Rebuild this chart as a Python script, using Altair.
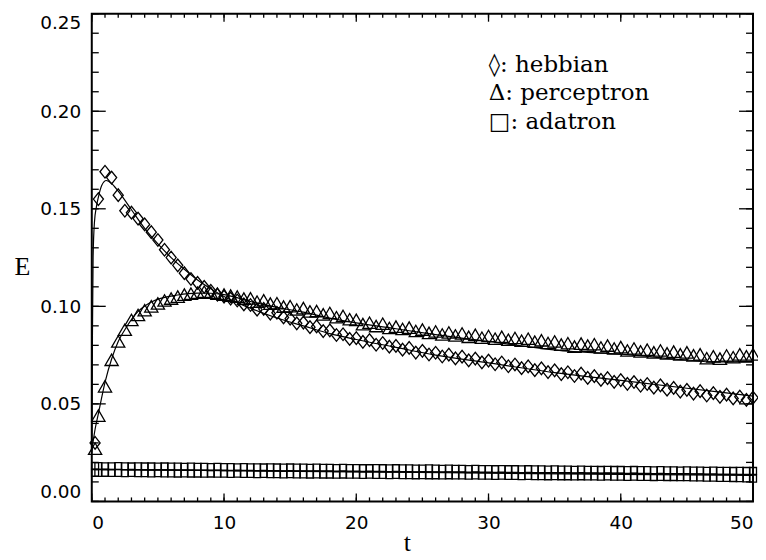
import altair as alt
import pandas as pd

# ---------------- data ----------------
# simulation sample times
t_points = [0.25] + [0.5 * k for k in range(1, 101)]

hebbian_pts = [
    0.030, 0.155, 0.169, 0.166, 0.157, 0.149, 0.148, 0.145, 0.142, 0.138,
    0.134, 0.129, 0.125, 0.121, 0.117, 0.114, 0.112, 0.110, 0.108, 0.106,
    0.105, 0.104, 0.103, 0.101, 0.1007, 0.0983, 0.0987, 0.0963, 0.0967, 0.0943,
    0.0937, 0.0913, 0.0917, 0.0893, 0.0897, 0.0873, 0.0877, 0.0853, 0.0857, 0.0833,
    0.0837, 0.0818, 0.0827, 0.0803, 0.0812, 0.0793, 0.0797, 0.0778, 0.0787, 0.0763,
    0.0772, 0.0753, 0.0762, 0.0743, 0.0752, 0.0733, 0.0742, 0.0723, 0.0732, 0.0713,
    0.0722, 0.0703, 0.0712, 0.0693, 0.0702, 0.0683, 0.0692, 0.0673, 0.0682, 0.0663,
    0.0672, 0.0653, 0.0662, 0.0643, 0.0655, 0.0633, 0.0642, 0.0623, 0.0632, 0.0613,
    0.0622, 0.0603, 0.0612, 0.0593, 0.0602, 0.0583, 0.0595, 0.0573, 0.0582, 0.0563,
    0.0572, 0.0553, 0.0565, 0.0543, 0.0555, 0.0536, 0.0547, 0.0528, 0.0537, 0.0521,
    0.0532,
]

perceptron_pts = [
    0.027, 0.044, 0.059, 0.0726, 0.082, 0.088, 0.093, 0.0956, 0.098, 0.100,
    0.1015, 0.103, 0.104, 0.105, 0.106, 0.1065, 0.107, 0.1075, 0.107, 0.1065,
    0.106, 0.1055, 0.105, 0.104, 0.1041, 0.1024, 0.1031, 0.1014, 0.1016, 0.0999,
    0.1001, 0.0984, 0.0991, 0.0974, 0.0976, 0.0959, 0.0966, 0.0944, 0.0951, 0.0934,
    0.0931, 0.0909, 0.0916, 0.0899, 0.0911, 0.0889, 0.0896, 0.0884, 0.0891, 0.0874,
    0.0881, 0.0864, 0.0871, 0.0856, 0.0866, 0.0851, 0.0861, 0.0844, 0.0854, 0.0839,
    0.0848, 0.0834, 0.0844, 0.0829, 0.0838, 0.0824, 0.0834, 0.0819, 0.0826, 0.0812,
    0.0820, 0.0804, 0.0811, 0.0794, 0.0809, 0.0799, 0.0806, 0.0789, 0.0799, 0.0784,
    0.0791, 0.0774, 0.0784, 0.0769, 0.0778, 0.0764, 0.0774, 0.0759, 0.0768, 0.0754,
    0.0764, 0.0749, 0.0754, 0.0734, 0.0744, 0.0732, 0.0748, 0.0739, 0.0754, 0.0744,
    0.0754,
]

adatron_upper = [
    0.0181, 0.0181, 0.0180, 0.0180, 0.0181, 0.0180, 0.0179, 0.0180, 0.0179, 0.0179,
    0.0178, 0.0179, 0.0178, 0.0178, 0.0177, 0.0178, 0.0177, 0.0177, 0.0176, 0.0177,
    0.0176, 0.0176, 0.0175, 0.0176, 0.0175, 0.0175, 0.0174, 0.0175, 0.0174, 0.0173,
    0.0174, 0.0173, 0.0173, 0.0172, 0.0173, 0.0172, 0.0172, 0.0171, 0.0172, 0.0171,
    0.0171, 0.0170, 0.0170, 0.0171, 0.0170, 0.0169, 0.0170, 0.0169, 0.0169, 0.0168,
    0.0168, 0.0169, 0.0168, 0.0167, 0.0168, 0.0167, 0.0167, 0.0166, 0.0167, 0.0166,
    0.0166, 0.0165, 0.0166, 0.0165, 0.0165, 0.0164, 0.0165, 0.0164, 0.0164, 0.0163,
    0.0164, 0.0163, 0.0163, 0.0162, 0.0163, 0.0162, 0.0162, 0.0161, 0.0162, 0.0161,
    0.0161, 0.0160, 0.0161, 0.0160, 0.0160, 0.0159, 0.0160, 0.0159, 0.0159, 0.0158,
    0.0159, 0.0158, 0.0158, 0.0157, 0.0158, 0.0157, 0.0157, 0.0156, 0.0157, 0.0156,
    0.0156,
]

adatron_lower = [
    0.0147, 0.0146, 0.0147, 0.0146, 0.0146, 0.0145, 0.0146, 0.0145, 0.0145, 0.0144,
    0.0145, 0.0144, 0.0144, 0.0143, 0.0144, 0.0143, 0.0143, 0.0142, 0.0143, 0.0142,
    0.0142, 0.0141, 0.0142, 0.0141, 0.0141, 0.0140, 0.0141, 0.0140, 0.0140, 0.0139,
    0.0140, 0.0139, 0.0139, 0.0138, 0.0139, 0.0138, 0.0138, 0.0137, 0.0138, 0.0137,
    0.0137, 0.0136, 0.0137, 0.0136, 0.0136, 0.0135, 0.0136, 0.0135, 0.0135, 0.0134,
    0.0135, 0.0134, 0.0134, 0.0133, 0.0134, 0.0133, 0.0133, 0.0132, 0.0133, 0.0132,
    0.0132, 0.0131, 0.0132, 0.0131, 0.0131, 0.0130, 0.0131, 0.0130, 0.0130, 0.0129,
    0.0130, 0.0129, 0.0129, 0.0128, 0.0129, 0.0128, 0.0128, 0.0127, 0.0128, 0.0127,
    0.0127, 0.0126, 0.0127, 0.0126, 0.0126, 0.0125, 0.0126, 0.0125, 0.0125, 0.0124,
    0.0124, 0.0123, 0.0123, 0.0122, 0.0122, 0.0121, 0.0121, 0.0120, 0.0119, 0.0118,
    0.0117,
]

# theory curves (solid lines)
hebbian_line_t = [0, 0.05, 0.1, 0.2, 0.35, 0.5, 0.75, 1.1, 1.5, 2, 3, 4, 5, 6, 7, 8, 9, 10,
                  12, 14, 16, 18, 20, 23, 26, 30, 35, 40, 45, 50]
hebbian_line_E = [0.025, 0.085, 0.125, 0.143, 0.151, 0.156, 0.162, 0.1645, 0.163, 0.159,
                  0.1495, 0.140, 0.132, 0.125, 0.119, 0.1135, 0.109, 0.105,
                  0.099, 0.094, 0.090, 0.086, 0.083, 0.079, 0.075, 0.071, 0.066, 0.062,
                  0.058, 0.054]

perceptron_line_t = [0, 0.25, 0.5, 1, 1.5, 2, 2.5, 3.25, 4.5, 6.5, 8, 9, 10, 12, 14, 16, 18,
                     20, 23, 26, 30, 36, 40, 45, 47, 50]
perceptron_line_E = [0.026, 0.037, 0.045, 0.061, 0.073, 0.082, 0.088, 0.0955, 0.1022,
                     0.1058, 0.1068, 0.1067, 0.106, 0.1025, 0.0995, 0.097, 0.094, 0.0915,
                     0.0885, 0.0855, 0.082, 0.077, 0.0755, 0.0725, 0.0715, 0.0718]

adatron_line_t = [0, 10, 20, 30, 40, 50]
adatron_line_E = [0.0165, 0.0158, 0.0151, 0.0145, 0.0139, 0.0134]

legend_labels = ["\u25ca:  hebbian", "\u0394:  perceptron", "\u25a1:  adatron"]

x_major = [0, 10, 20, 30, 40, 50]
x_minor = list(range(0, 51))
y_major = [0.0, 0.05, 0.10, 0.15, 0.20, 0.25]
y_minor = [k / 100 for k in range(0, 26)]

# ---------------- chart ----------------
W, H = 663, 489
SANS = "DejaVu Sans"
SERIF = "DejaVu Serif"
TSERIF = "Liberation Serif"

xs = alt.Scale(domain=[0, 50], nice=False, zero=False)
ys = alt.Scale(domain=[0, 0.25], nice=False, zero=False)
xaxis = alt.Axis(values=x_major, ticks=False, domain=False, grid=False,
                 labelFont=SANS, labelFontSize=18.5, labelColor="black", labelPadding=12,
                 title="t", titleFont=TSERIF, titleFontSize=26, titleFontWeight="normal",
                 titleColor="black", titleX=316, titleY=49, titleBaseline="alphabetic",
                 titleAlign="center", titleAnchor="start")
yaxis = alt.Axis(values=y_major, format=".2f", ticks=False, domain=False, grid=False,
                 labelFont=SANS, labelFontSize=18.5, labelColor="black", labelPadding=11,
                 labelFlush=True,
                 title="E", titleFont=TSERIF, titleFontSize=26, titleFontWeight="normal",
                 titleColor="black", titleAngle=0, titleX=-70, titleY=261,
                 titleBaseline="alphabetic", titleAlign="center", titleAnchor="start")

X = alt.X("t:Q", scale=xs, axis=xaxis)
Y = alt.Y("E:Q", scale=ys, axis=yaxis)


def df_series(ts, es):
    return pd.DataFrame({"t": ts, "E": es})


line_style = dict(color="black", strokeWidth=1.2, interpolate="monotone")
pt_style = dict(filled=False, color="black", strokeWidth=1.3, opacity=1)

DIAMOND = "M-0.8,0L0,-1L0.8,0L0,1Z"

layers = []
for lt, le in [(hebbian_line_t, hebbian_line_E), (perceptron_line_t, perceptron_line_E),
               (adatron_line_t, adatron_line_E)]:
    layers.append(alt.Chart(df_series(lt, le)).mark_line(**line_style).encode(x=X, y=Y))

layers.append(alt.Chart(df_series(t_points, hebbian_pts)).mark_point(
    shape=DIAMOND, size=160, **pt_style).encode(x=X, y=Y))
layers.append(alt.Chart(df_series(t_points, perceptron_pts)).mark_point(
    shape="triangle-up", size=175, **pt_style).encode(x=X, y=Y))
layers.append(alt.Chart(df_series(t_points, adatron_upper)).mark_point(
    shape="square", size=49, **pt_style).encode(x=X, y=Y))
layers.append(alt.Chart(df_series(t_points, adatron_lower)).mark_point(
    shape="square", size=49, **pt_style).encode(x=X, y=Y))

# inward ticks on all four sides
xmaj = pd.DataFrame({"t": x_major})
xmin = pd.DataFrame({"t": x_minor})
ymaj = pd.DataFrame({"E": y_major})
ymin = pd.DataFrame({"E": y_minor})
tick_style = dict(color="black", strokeWidth=1.3)
for d, ln in [(xmin, 4), (xmaj, 8)]:
    layers.append(alt.Chart(d).mark_rule(**tick_style).encode(
        x=X, y=alt.value(H), y2=alt.value(H - ln)))
    layers.append(alt.Chart(d).mark_rule(**tick_style).encode(
        x=X, y=alt.value(0), y2=alt.value(ln)))
for d, ln in [(ymin, 7), (ymaj, 14)]:
    layers.append(alt.Chart(d).mark_rule(**tick_style).encode(
        y=Y, x=alt.value(0), x2=alt.value(ln)))
    layers.append(alt.Chart(d).mark_rule(**tick_style).encode(
        y=Y, x=alt.value(W), x2=alt.value(W - ln)))

# in-plot legend text
for i, lab in enumerate(legend_labels):
    layers.append(alt.Chart(pd.DataFrame({"label": [lab]})).mark_text(
        font=SERIF, fontSize=23, color="black", align="left", baseline="middle"
    ).encode(text="label:N", x=alt.value(398), y=alt.value(51 + 29 * i)))

chart = alt.layer(*layers).properties(
    width=W, height=H,
    autosize=alt.AutoSizeParams(type="none"),
    padding={"left": 84, "top": 5, "right": 5, "bottom": 56},
    background="white",
).configure_view(stroke="black", strokeWidth=2)

chart.save("out.html", embed_options={"renderer": "svg", "actions": False})
